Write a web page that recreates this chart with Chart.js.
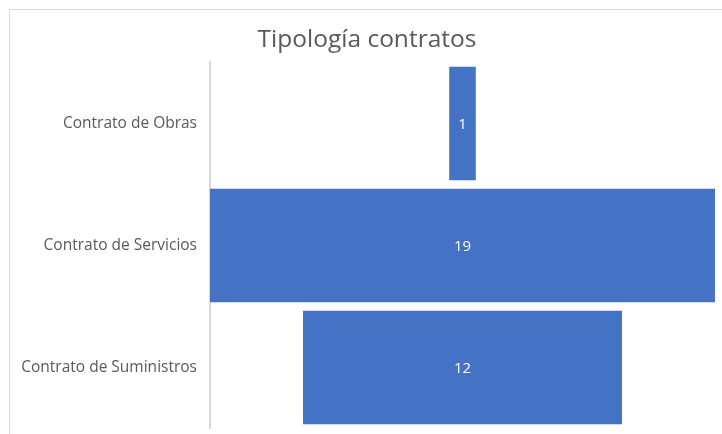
<!DOCTYPE html>
<html>
<head>
<meta charset="utf-8">
<script src="https://cdn.jsdelivr.net/npm/chart.js@4/dist/chart.umd.min.js"></script>
<style>
html,body{margin:0;padding:0;background:#fff;}
#wrap{width:722px;height:434px;position:relative;}
</style>
</head>
<body>
<div id="wrap"><canvas id="c" width="722" height="434"></canvas></div>
<script>
const titleText = 'Tipología contratos';
const categories = ['Contrato de Obras', 'Contrato de Servicios', 'Contrato de Suministros'];
const values = [1, 19, 12];

const FONT = '"Open Sans", "Noto Sans", sans-serif';
const maxVal = Math.max(...values);

const frame = {
  id: 'frame',
  beforeDraw(chart) {
    const ctx = chart.ctx;
    ctx.save();
    ctx.fillStyle = '#fff';
    ctx.fillRect(0, 0, chart.width, chart.height);
    ctx.strokeStyle = '#d9d9d9';
    ctx.lineWidth = 1;
    ctx.strokeRect(9.5, 9.5, chart.width + 20, chart.height + 20);
    ctx.restore();
  }
};

const valueLabels = {
  id: 'valueLabels',
  afterDatasetsDraw(chart) {
    const ctx = chart.ctx;
    const meta = chart.getDatasetMeta(0);
    ctx.save();
    ctx.fillStyle = '#ffffff';
    ctx.font = '15px ' + FONT;
    ctx.textAlign = 'center';
    ctx.textBaseline = 'middle';
    meta.data.forEach((bar, i) => {
      const p = bar.getCenterPoint();
      ctx.fillText(String(values[i]), p.x, p.y + 1);
    });
    ctx.restore();
  }
};

new Chart(document.getElementById('c'), {
  type: 'bar',
  data: {
    labels: categories,
    datasets: [{
      data: values.map(v => [-v / 2, v / 2]),
      backgroundColor: '#4472c4',
      borderWidth: 0,
      barPercentage: 0.93,
      categoryPercentage: 1.0
    }]
  },
  options: {
    indexAxis: 'y',
    responsive: false,
    animation: false,
    layout: { padding: { left: 19, right: 7, top: 0, bottom: 5.5 } },
    plugins: {
      legend: { display: false },
      tooltip: { enabled: false },
      title: {
        display: true,
        text: titleText,
        color: '#595959',
        font: { family: FONT, size: 24.5, weight: 'normal' },
        padding: { top: 25, bottom: 8 }
      }
    },
    scales: {
      x: {
        display: false,
        min: -maxVal / 2,
        max: maxVal / 2,
        afterFit(scale) { scale.height = 0; }
      },
      y: {
        grid: { display: false, drawTicks: false },
        border: { display: true, color: '#d9d9d9', width: 2 },
        ticks: {
          color: '#595959',
          font: { family: FONT, size: 15.5 },
          padding: 13
        },
        afterFit(scale) {
          scale.width = 191;
          scale.paddingTop = 0;
          scale.paddingBottom = 0;
        }
      }
    }
  },
  plugins: [frame, valueLabels]
});
</script>
</body>
</html>
